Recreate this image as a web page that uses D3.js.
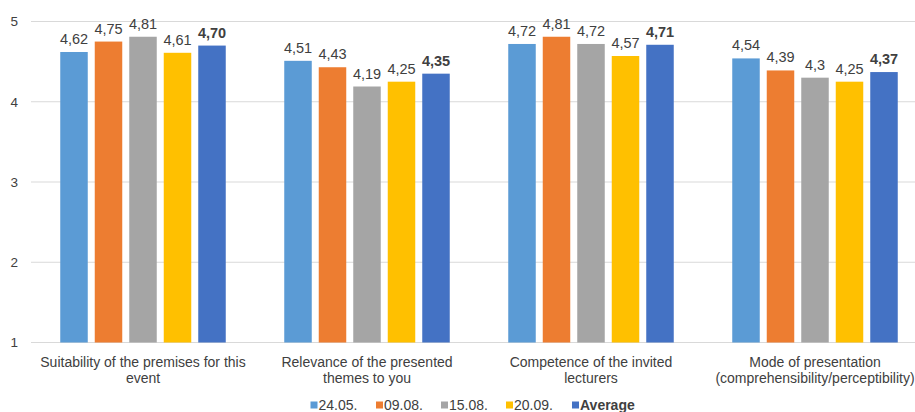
<!DOCTYPE html>
<html>
<head>
<meta charset="utf-8">
<script src="https://cdn.jsdelivr.net/npm/d3@7/dist/d3.min.js"></script>
<style>
  html, body { margin: 0; padding: 0; background: #fff; }
  svg { display: block; font-family: "Liberation Sans", Arial, sans-serif; }
</style>
</head>
<body>
<svg id="chart" width="915" height="412"></svg>
<script>
// Survey questions (category labels split into display lines)
const categories = [
  "Suitability of the premises for this event",
  "Relevance of the presented themes to you",
  "Competence of the invited lecturers",
  "Mode of presentation (comprehensibility/perceptibility)"
];
const categoryLines = [
  ["Suitability of the premises for this", "event"],
  ["Relevance of the presented", "themes to you"],
  ["Competence of the invited", "lecturers"],
  ["Mode of presentation", "(comprehensibility/perceptibility)"]
];

// Series: event dates plus the overall average
const seriesNames = ["24.05.", "09.08.", "15.08.", "20.09.", "Average"];
const seriesColors = ["#5B9BD5", "#ED7D31", "#A5A5A5", "#FFC000", "#4472C4"];

const values_2405 = [4.62, 4.51, 4.72, 4.54];
const values_0908 = [4.75, 4.43, 4.81, 4.39];
const values_1508 = [4.81, 4.19, 4.72, 4.30];
const values_2009 = [4.61, 4.25, 4.57, 4.25];
const values_avg  = [4.70, 4.35, 4.71, 4.37];

// Printed value labels
const labels_2405 = ["4,62", "4,51", "4,72", "4,54"];
const labels_0908 = ["4,75", "4,43", "4,81", "4,39"];
const labels_1508 = ["4,81", "4,19", "4,72", "4,3"];
const labels_2009 = ["4,61", "4,25", "4,57", "4,25"];
const labels_avg  = ["4,70", "4,35", "4,71", "4,37"];

const yTicks = [1, 2, 3, 4, 5];

const seriesValues = [values_2405, values_0908, values_1508, values_2009, values_avg];
const seriesLabels = [labels_2405, labels_0908, labels_1508, labels_2009, labels_avg];

const svg = d3.select("#chart");
const textColor = "#404040";

const x0 = d3.scaleBand().domain(categories).range([31, 927]).padding(0);
const groupWidth = 165.5;
const x1 = d3.scaleBand().domain(seriesNames).range([0, groupWidth])
  .paddingInner(7 / 34.5).paddingOuter(0);
const y = d3.scaleLinear().domain([1, 5]).range([342.5, 21.5]);

// Horizontal gridlines
svg.append("g")
  .selectAll("line")
  .data(yTicks)
  .join("line")
  .attr("x1", 31).attr("x2", 915)
  .attr("y1", d => y(d)).attr("y2", d => y(d))
  .attr("stroke", "#d9d9d9").attr("stroke-width", 1);

// Y axis labels
const yAxis = d3.axisLeft(y).tickValues(yTicks).tickSize(0).tickPadding(0).tickFormat(d3.format("d"));
svg.append("g")
  .attr("transform", "translate(18,0)")
  .call(yAxis)
  .call(g => g.select(".domain").remove())
  .call(g => g.selectAll("text")
    .attr("fill", textColor)
    .attr("font-size", 13.5)
    .attr("font-family", "'Liberation Sans', Arial, sans-serif"));

// Bars and value labels
const rows = categories.map((c, i) => ({
  cat: c,
  items: seriesNames.map((s, j) => ({
    series: s, color: seriesColors[j],
    value: seriesValues[j][i], label: seriesLabels[j][i], bold: s === "Average"
  }))
}));

const groups = svg.append("g")
  .selectAll("g")
  .data(rows)
  .join("g")
  .attr("transform", d => `translate(${x0(d.cat) + x0.bandwidth() / 2 - groupWidth / 2},0)`);

groups.selectAll("rect")
  .data(d => d.items)
  .join("rect")
  .attr("x", d => x1(d.series))
  .attr("width", x1.bandwidth())
  .attr("y", d => y(d.value))
  .attr("height", d => y(1) - y(d.value))
  .attr("fill", d => d.color);

groups.selectAll("text.val")
  .data(d => d.items)
  .join("text")
  .attr("class", "val")
  .attr("x", d => x1(d.series) + x1.bandwidth() / 2)
  .attr("y", d => y(d.value) - 8)
  .attr("text-anchor", "middle")
  .attr("font-size", 14.5)
  .attr("font-weight", d => d.bold ? "bold" : "normal")
  .attr("fill", textColor)
  .text(d => d.label);

// Category labels
const catG = svg.append("g")
  .selectAll("text")
  .data(categories)
  .join("text")
  .attr("x", d => x0(d) + x0.bandwidth() / 2)
  .attr("y", 367)
  .attr("text-anchor", "middle")
  .attr("font-size", 14)
  .attr("fill", textColor);
catG.selectAll("tspan")
  .data((d, i) => categoryLines[i])
  .join("tspan")
  .attr("x", function () { return d3.select(this.parentNode).attr("x"); })
  .attr("dy", (d, i) => i === 0 ? 0 : 15.5)
  .text(d => d);

// Legend
const legendX = [310.5, 376, 441, 506, 572];
const legend = svg.append("g")
  .selectAll("g")
  .data(seriesNames)
  .join("g")
  .attr("transform", (d, i) => `translate(${legendX[i]},405)`);
legend.append("rect")
  .attr("x", 0).attr("y", -3.5)
  .attr("width", 7).attr("height", 7)
  .attr("fill", (d, i) => seriesColors[i]);
legend.append("text")
  .attr("x", 8).attr("y", 5)
  .attr("font-size", 14)
  .attr("font-weight", d => d === "Average" ? "bold" : "normal")
  .attr("fill", textColor)
  .text(d => d);
</script>
</body>
</html>
